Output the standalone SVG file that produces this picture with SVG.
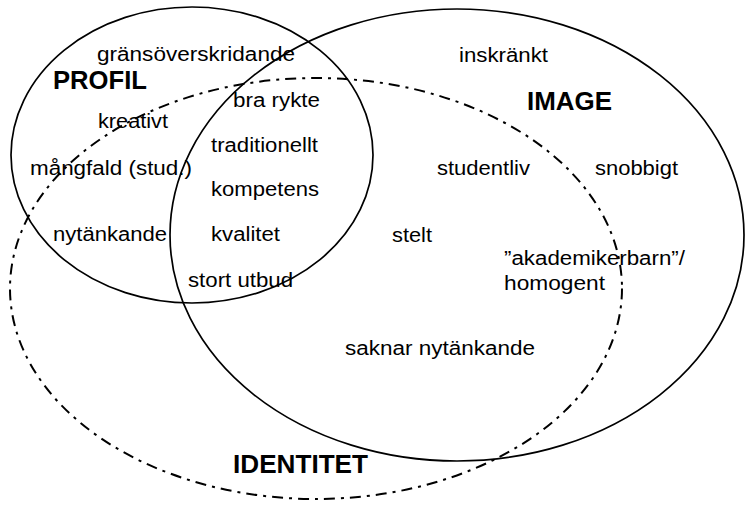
<svg xmlns="http://www.w3.org/2000/svg" width="746" height="506" viewBox="0 0 746 506">
<style>
.sh{fill:none;stroke:#000;stroke-width:1.7}
.dd{fill:none;stroke:#000;stroke-width:2;stroke-dasharray:11 6 3 6}
.t{font-family:"Liberation Sans",Arial,sans-serif;font-size:20px;fill:#000}
.b{font-family:"Liberation Sans",Arial,sans-serif;font-size:25px;font-weight:bold;fill:#000}
</style>
<rect width="746" height="506" fill="#fff"/>
<g id="profil"><ellipse class="sh" cx="192" cy="155" rx="181" ry="148"/>
<text class="b" x="53" y="89" textLength="94" lengthAdjust="spacingAndGlyphs">PROFIL</text></g>
<g id="image"><ellipse class="sh" cx="457" cy="235" rx="287" ry="226"/>
<text class="b" x="527" y="110" textLength="85" lengthAdjust="spacingAndGlyphs">IMAGE</text></g>
<g id="identitet"><ellipse class="dd" cx="316" cy="288.5" rx="306" ry="210.5"/>
<text class="b" x="233" y="473" textLength="135" lengthAdjust="spacingAndGlyphs">IDENTITET</text></g>
<g id="labels">
<text class="t" x="97" y="61" textLength="198" lengthAdjust="spacingAndGlyphs">gränsöverskridande</text>
<text class="t" x="233" y="107" textLength="87" lengthAdjust="spacingAndGlyphs">bra rykte</text>
<text class="t" x="98" y="128" textLength="70" lengthAdjust="spacingAndGlyphs">kreativt</text>
<text class="t" x="211" y="152" textLength="107" lengthAdjust="spacingAndGlyphs">traditionellt</text>
<text class="t" x="30" y="175" textLength="162" lengthAdjust="spacingAndGlyphs">mångfald (stud.)</text>
<text class="t" x="211" y="196" textLength="108" lengthAdjust="spacingAndGlyphs">kompetens</text>
<text class="t" x="53" y="241" textLength="114" lengthAdjust="spacingAndGlyphs">nytänkande</text>
<text class="t" x="211" y="241" textLength="69" lengthAdjust="spacingAndGlyphs">kvalitet</text>
<text class="t" x="188" y="287" textLength="105" lengthAdjust="spacingAndGlyphs">stort utbud</text>
<text class="t" x="459" y="62" textLength="89" lengthAdjust="spacingAndGlyphs">inskränkt</text>
<text class="t" x="437" y="175" textLength="93" lengthAdjust="spacingAndGlyphs">studentliv</text>
<text class="t" x="595" y="175" textLength="83" lengthAdjust="spacingAndGlyphs">snobbigt</text>
<text class="t" x="392" y="242" textLength="40" lengthAdjust="spacingAndGlyphs">stelt</text>
<text class="t" x="504" y="265" textLength="181" lengthAdjust="spacingAndGlyphs">”akademikerbarn”/</text>
<text class="t" x="504" y="290" textLength="101" lengthAdjust="spacingAndGlyphs">homogent</text>
<text class="t" x="345" y="355" textLength="190" lengthAdjust="spacingAndGlyphs">saknar nytänkande</text>
</g>
</svg>
